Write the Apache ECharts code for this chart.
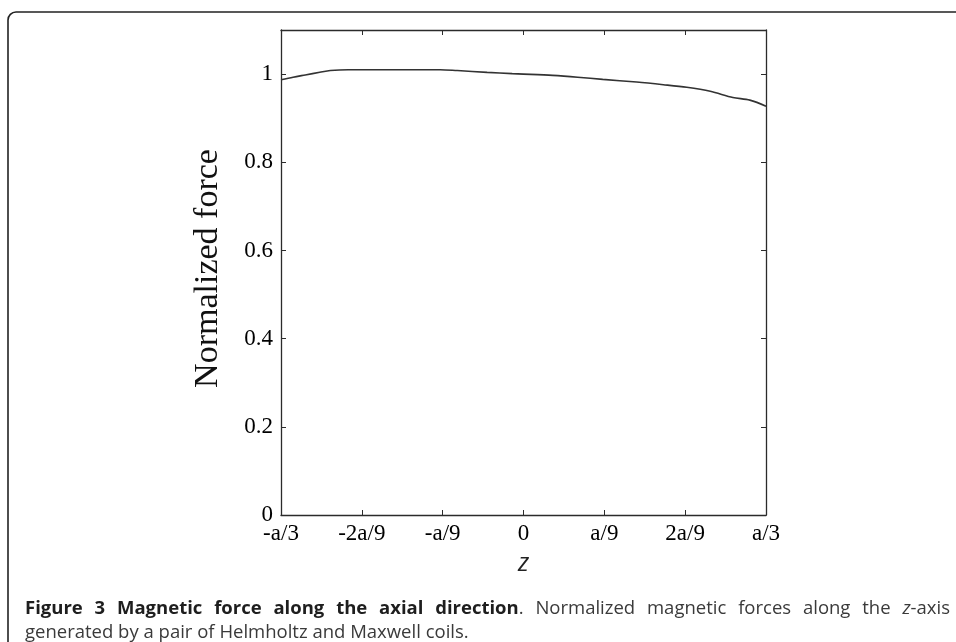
<!DOCTYPE html>
<html>
<head>
<meta charset="utf-8">
<script src="https://cdn.jsdelivr.net/npm/echarts@6/dist/echarts.min.js"></script>
<style>
html,body{margin:0;padding:0;background:#fff;}
#chart{width:956px;height:642px;}
</style>
</head>
<body>
<div id="chart"></div>
<script>
// z position in units of a/9
var zPositions = [-3, -2.85, -2.7, -2.52, -2.39, -2.17, -2.0, -1.5, -1.03, -0.82, -0.45, -0.14, 0, 0.36, 0.67, 0.98, 1.40, 1.73, 2.02, 2.31, 2.59, 2.80, 3.0];
var forceValues = [0.987, 0.993, 0.998, 1.004, 1.008, 1.010, 1.010, 1.010, 1.010, 1.008, 1.004, 1.001, 1.000, 0.997, 0.993, 0.988, 0.982, 0.976, 0.970, 0.961, 0.947, 0.941, 0.927];
var xTickLabels = ['-a/3', '-2a/9', '-a/9', '0', 'a/9', '2a/9', 'a/3'];
var yTickLabels = ['0', '0.2', '0.4', '0.6', '0.8', '1'];

var seriesData = zPositions.map(function (z, i) { return [z, forceValues[i]]; });

var axisColor = '#2b2b2b';
var serif = '"Liberation Serif", "DejaVu Serif", serif';
var capSize = 18.5;
var fontBold = 'bold ' + capSize + 'px "Open Sans", sans-serif';
var fontNorm = capSize + 'px "Open Sans", sans-serif';
var fontItal = 'italic ' + capSize + 'px "Open Sans", sans-serif';
var boldColor = '#1e1e1e', normColor = '#3a3a3a';

// Caption line 1 as words (each word = list of spans), justified between x=25 and x=950
var line1Words = [
  [['Figure', 'b']], [['3', 'b']], [['Magnetic', 'b']], [['force', 'b']], [['along', 'b']],
  [['the', 'b']], [['axial', 'b']], [['direction', 'b'], ['.', 'n']],
  [['Normalized', 'n']], [['magnetic', 'n']], [['forces', 'n']], [['along', 'n']], [['the', 'n']],
  [['z', 'i'], ['-axis', 'n']]
];
var fontFor = {b: fontBold, n: fontNorm, i: fontItal};
var colorFor = {b: boldColor, n: normColor, i: normColor};

var measureCtx = document.createElement('canvas').getContext('2d');
function textWidth(t, f) { measureCtx.font = f; return measureCtx.measureText(t).width; }

var capLeft = 25, capRight = 950, line1Y = 609, line2Y = 633;
var wordWidths = line1Words.map(function (w) {
  return w.reduce(function (s, sp) { return s + textWidth(sp[0], fontFor[sp[1]]); }, 0);
});
var totalW = wordWidths.reduce(function (a, b) { return a + b; }, 0);
var gap = (capRight - capLeft - totalW) / (line1Words.length - 1);
var captionGraphics = [];
var cx = capLeft;
line1Words.forEach(function (w, wi) {
  var sx = cx;
  w.forEach(function (sp) {
    captionGraphics.push({type: 'text', silent: true, x: sx, y: line1Y,
      style: {text: sp[0], font: fontFor[sp[1]], fill: colorFor[sp[1]], align: 'left', verticalAlign: 'middle'}});
    sx += textWidth(sp[0], fontFor[sp[1]]);
  });
  cx += wordWidths[wi] + gap;
});
captionGraphics.push({type: 'text', silent: true, x: capLeft, y: line2Y,
  style: {text: 'generated by a pair of Helmholtz and Maxwell coils.', font: fontNorm, fill: normColor, verticalAlign: 'middle', align: 'left'}});

var chart = echarts.init(document.getElementById('chart'), null, {renderer: 'canvas'});
chart.setOption({
  animation: false,
  backgroundColor: '#ffffff',
  grid: {left: 281, right: 190, top: 30, bottom: 127, containLabel: false},
  xAxis: [{
    type: 'value', min: -3, max: 3, interval: 1, position: 'bottom',
    name: 'z', nameLocation: 'middle', nameGap: 36,
    nameTextStyle: {fontFamily: '"Open Sans", sans-serif', fontStyle: 'italic', fontSize: 25, color: '#222'},
    axisLine: {show: true, onZero: false, lineStyle: {color: axisColor, width: 1.3}},
    axisTick: {show: true, inside: true, length: 5, lineStyle: {color: axisColor, width: 1}},
    axisLabel: {
      margin: 7, fontFamily: serif, fontSize: 23, color: '#000',
      formatter: function (v) { var k = Math.round(v) + 3; return xTickLabels[k] || ''; }
    },
    splitLine: {show: false}
  }, {
    type: 'value', min: -3, max: 3, interval: 1, position: 'top',
    axisLine: {show: true, onZero: false, lineStyle: {color: axisColor, width: 1.3}},
    axisTick: {show: true, inside: true, length: 5, lineStyle: {color: axisColor, width: 1}},
    axisLabel: {show: false}, splitLine: {show: false}
  }],
  yAxis: [{
    type: 'value', min: 0, max: 1.1, interval: 0.2, position: 'left',
    name: 'Normalized force', nameLocation: 'middle', nameGap: 56,
    nameTextStyle: {fontFamily: serif, fontSize: 34, color: '#111', padding: [0, 0, 0, 8]},
    axisLine: {show: true, onZero: false, lineStyle: {color: axisColor, width: 1.3}},
    axisTick: {show: true, inside: true, length: 5, lineStyle: {color: axisColor, width: 1}},
    axisLabel: {
      margin: 8, fontFamily: serif, fontSize: 23, color: '#000', showMaxLabel: false,
      formatter: function (v) { var k = Math.round(v / 0.2); if (Math.abs(v - k * 0.2) > 1e-6) return ''; return yTickLabels[k] || ''; }
    },
    splitLine: {show: false}
  }, {
    type: 'value', min: 0, max: 1.1, interval: 0.2, position: 'right',
    axisLine: {show: true, onZero: false, lineStyle: {color: axisColor, width: 1.3}},
    axisTick: {show: true, inside: true, length: 5, lineStyle: {color: axisColor, width: 1}},
    axisLabel: {show: false}, splitLine: {show: false}
  }],
  series: [{
    type: 'line', xAxisIndex: 0, yAxisIndex: 0,
    data: seriesData, smooth: 0.3, showSymbol: false, symbol: 'none',
    lineStyle: {color: '#333', width: 1.6}
  }],
  graphic: [
    {type: 'rect', silent: true, shape: {x: 8, y: 12, width: 1100, height: 800, r: 8},
     style: {fill: 'none', stroke: '#222', lineWidth: 1.6}}
  ].concat(captionGraphics)
});
</script>
</body>
</html>
